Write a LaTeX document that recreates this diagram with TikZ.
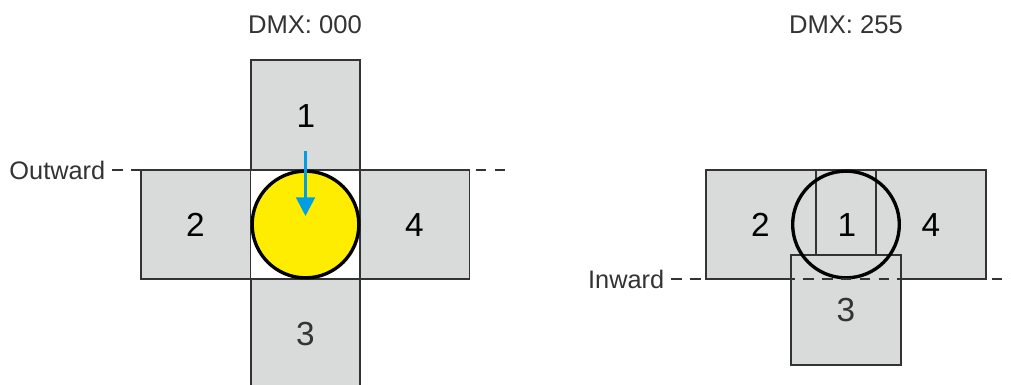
\documentclass[tikz,border=0pt]{standalone}
\usepackage{fontspec}
\setmainfont{Liberation Sans}
\usetikzlibrary{arrows.meta}
\definecolor{boxgrey}{HTML}{D9DADA}
\definecolor{edge}{HTML}{333333}
\definecolor{lampyellow}{HTML}{FFED00}
\definecolor{arrowblue}{HTML}{009FE3}
\tikzset{
  panel/.style={draw=edge,fill=boxgrey,line width=1.3pt,inner sep=0pt,outer sep=0pt,anchor=center,font=\fontsize{25}{27}\selectfont},
  sq/.style={panel,minimum width=82.1pt,minimum height=82.1pt},
  caption/.style={text=edge,inner sep=0pt,font=\fontsize{19.2}{21}\selectfont},
  sidelabel/.style={caption,anchor=east,font=\fontsize{19}{21}\selectfont},
  guide/.style={draw=edge,line width=1.3pt,dash pattern=on 8pt off 6.36pt},
  guideb/.style={guide,dash pattern=on 8pt off 6.15pt},
  beam/.style={draw=black,line width=2.5pt},
  travel/.style={draw=arrowblue,line width=2.2pt,-{Triangle[length=14pt,width=14pt,fill=arrowblue]}}
}
\begin{document}
\begin{tikzpicture}[x=0.75pt,y=-0.75pt]
\useasboundingbox (0,0) rectangle (1011,385);
\fill[white] (0,0) rectangle (1011,385);
\clip (0,0) rectangle (1011,385);
% left
\node[caption] (t1) at (305,25) {DMX: 000};
\node[sq,text=black] (a1) at (305.5,115) {};
\node[sq] (a2) at (195.75,224.5) {};
\node[sq] (a3) at (305.5,334) {};
\node[sq] (a4) at (414.75,224.5) {};
\node[panel,draw=none,fill=none] (a1t) at (306,116) {1};
\node[panel,draw=none,fill=none] (a2t) at (195.5,225) {2};
\node[panel,draw=none,fill=none,text=edge] (a3t) at (305.5,334.5) {3};
\node[panel,draw=none,fill=none] (a4t) at (414.5,225) {4};
\node[sidelabel] (out) at (105.5,170) {Outward};
\coordinate (os) at (112,170);
\coordinate (oe) at (505,170);
\draw[guide] (os) -- (oe);
\node[beam,circle,fill=lampyellow,minimum size=80pt,inner sep=0pt] (lamp) at (305.5,224.5) {};
\coordinate (as) at (305.5,151);
\coordinate (ae) at (305.5,216);
\draw[travel] (as) -- (ae);
% right
\node[sq] (b2) at (761,224.5) {};
\node[sq] (b4) at (931,224.5) {};
\node[panel,minimum width=45pt,minimum height=64pt] (b1) at (846,212.5) {};
\node[sq] (b3) at (846,310) {};
\node[caption] (t2) at (846,25) {DMX: 255};
\node[panel,draw=none,fill=none] (b2t) at (760.5,225) {2};
\node[panel,draw=none,fill=none] (b1t) at (847,225) {1};
\node[panel,draw=none,fill=none] (b4t) at (931,225) {4};
\node[panel,draw=none,fill=none,text=edge] (b3t) at (846,310.5) {3};
\node[beam,circle,minimum size=80pt,inner sep=0pt] (ring) at (846,224.5) {};
\node[sidelabel] (in) at (664.5,279) {Inward};
\coordinate (is) at (671,279);
\coordinate (ie) at (1011,279);
\draw[guideb] (is) -- (ie);
\end{tikzpicture}
\end{document}
